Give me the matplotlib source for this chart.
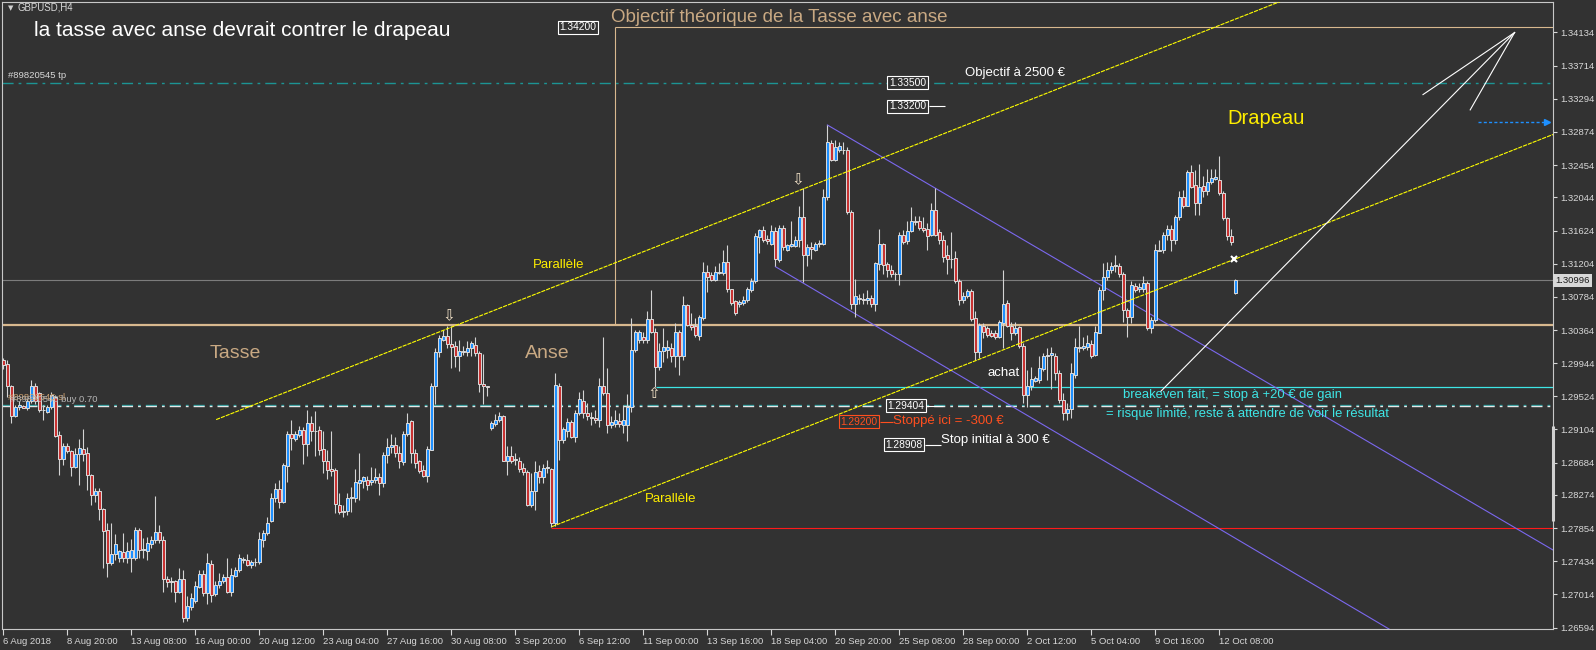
import numpy as np
import matplotlib.pyplot as plt
from matplotlib import transforms

plt.rcParams['font.family'] = ['Liberation Sans', 'DejaVu Sans']
plt.rcParams['lines.scale_dashes'] = False

W, H = 1596, 650
BG = '#323232'

# GBPUSD H4, prix en 1/10000
o_pips = [
    12998, 12993, 12965, 12927, 12939, 12940, 12938, 12946, 12965, 12956, 12935, 12933, 12939, 12952, 12903, 12873,
    12890, 12883, 12863, 12879, 12886, 12880, 12853, 12827, 12832, 12810, 12783, 12741, 12752, 12748, 12755, 12748,
    12748, 12748, 12783, 12758, 12757, 12765, 12770, 12781, 12770, 12721, 12718, 12718, 12705, 12721, 12672, 12686,
    12693, 12711, 12727, 12703, 12740, 12702, 12713, 12718, 12724, 12704, 12725, 12732, 12745, 12745, 12739, 12742,
    12743, 12770, 12779, 12794, 12823, 12835, 12819, 12864, 12905, 12898, 12904, 12910, 12892, 12918, 12908, 12910,
    12886, 12871, 12860, 12859, 12815, 12806, 12807, 12824, 12823, 12843, 12845, 12847, 12844, 12847, 12850, 12843,
    12878, 12888, 12891, 12880, 12869, 12905, 12921, 12881, 12870, 12859, 12851, 12885, 12966, 13009, 13024, 13029,
    13019, 13016, 13004, 13010, 13008, 13013, 13018, 13007, 12968, 12966, 12912, 12917, 12922, 12927, 12871, 12877,
    12872, 12871, 12862, 12857, 12815, 12832, 12858, 12850, 12862, 12860, 12792, 12966, 12897, 12908, 12920, 12901,
    12931, 12947, 12931, 12926, 12925, 12922, 12966, 12957, 12916, 12917, 12921, 12916, 12916, 12939, 13011, 13024,
    13028, 13024, 13050, 13034, 12989, 13010, 13011, 13013, 13003, 13034, 13003, 13068, 13043, 13042, 13029, 13052,
    13110, 13106, 13100, 13109, 13109, 13122, 13088, 13073, 13070, 13071, 13074, 13087, 13098, 13154, 13163, 13152,
    13146, 13162, 13125, 13166, 13138, 13143, 13143, 13150, 13179, 13131, 13142, 13138, 13146, 13146, 13205, 13273,
    13252, 13264, 13264, 13265, 13186, 13069, 13077, 13076, 13075, 13077, 13069, 13120, 13145, 13120, 13113, 13108,
    13107, 13157, 13149, 13162, 13174, 13175, 13166, 13164, 13157, 13188, 13161, 13151, 13131, 13127, 13128, 13098,
    13074, 13079, 13086, 13051, 13009, 13042, 13039, 13032, 13033, 13028, 13045, 13071, 13042, 13032, 13040, 13016,
    12954, 12965, 12972, 12973, 12987, 13003, 13005, 13003, 12982, 12948, 12931, 12936, 12980, 13015, 13014, 13015,
    13019, 13005, 13033, 13087, 13104, 13113, 13118, 13118, 13108, 13062, 13053, 13092, 13088, 13088, 13096, 13039,
    13049, 13137, 13138, 13157, 13165, 13151, 13179, 13205, 13194, 13236, 13220, 13197, 13219, 13212, 13224, 13228,
    13227, 13210, 13178, 13155, 13083,
]
h_pips = [
    13001, 12998, 12967, 12942, 12946, 12942, 12950, 12973, 12969, 12958, 12941, 12942, 12958, 12954, 12908, 12893,
    12893, 12885, 12887, 12898, 12911, 12888, 12854, 12836, 12836, 12811, 12792, 12792, 12778, 12758, 12779, 12768,
    12771, 12787, 12785, 12773, 12774, 12775, 12826, 12790, 12775, 12725, 12724, 12720, 12735, 12732, 12699, 12703,
    12718, 12732, 12732, 12754, 12745, 12718, 12728, 12727, 12748, 12735, 12736, 12752, 12749, 12752, 12745, 12747,
    12780, 12783, 12799, 12830, 12842, 12846, 12868, 12909, 12923, 12908, 12915, 12914, 12935, 12927, 12934, 12915,
    12909, 12884, 12908, 12861, 12830, 12815, 12830, 12838, 12860, 12881, 12852, 12851, 12863, 12861, 12855, 12882,
    12900, 12905, 12901, 12889, 12909, 12931, 12922, 12886, 12872, 12865, 12890, 12969, 13013, 13030, 13037, 13041,
    13041, 13022, 13024, 13016, 13023, 13023, 13027, 13010, 13006, 12966, 12921, 12930, 12932, 12929, 12889, 12889,
    12880, 12876, 12868, 12859, 12855, 12870, 12866, 12867, 12872, 12862, 12982, 12969, 12914, 12925, 12922, 12935,
    12958, 12961, 12944, 12932, 12935, 12976, 13028, 12988, 12927, 12935, 12931, 12941, 12955, 13051, 13037, 13037,
    13034, 13060, 13087, 13039, 13020, 13039, 13024, 13020, 13045, 13036, 13079, 13070, 13058, 13051, 13056, 13123,
    13119, 13110, 13117, 13121, 13138, 13144, 13089, 13074, 13075, 13079, 13091, 13102, 13159, 13165, 13168, 13157,
    13170, 13167, 13170, 13170, 13146, 13175, 13155, 13193, 13216, 13146, 13148, 13148, 13150, 13215, 13296, 13277,
    13277, 13275, 13275, 13268, 13189, 13101, 13082, 13083, 13087, 13081, 13123, 13165, 13147, 13123, 13119, 13110,
    13161, 13163, 13174, 13192, 13181, 13181, 13180, 13172, 13197, 13216, 13165, 13157, 13144, 13161, 13136, 13101,
    13085, 13088, 13088, 13060, 13045, 13045, 13042, 13036, 13037, 13049, 13113, 13075, 13046, 13047, 13041, 13020,
    12986, 12990, 12978, 13003, 13007, 13013, 13015, 13007, 12986, 12956, 12944, 12994, 13026, 13041, 13028, 13030,
    13024, 13041, 13091, 13121, 13123, 13123, 13131, 13121, 13110, 13064, 13098, 13096, 13096, 13105, 13098, 13053,
    13146, 13150, 13160, 13169, 13169, 13182, 13212, 13214, 13239, 13246, 13239, 13247, 13231, 13241, 13241, 13240,
    13257, 13212, 13180, 13165, 13101,
]
l_pips = [
    12987, 12952, 12919, 12926, 12935, 12937, 12935, 12944, 12943, 12933, 12923, 12931, 12936, 12901, 12853, 12866,
    12880, 12851, 12861, 12840, 12870, 12834, 12815, 12818, 12796, 12735, 12723, 12739, 12745, 12742, 12742, 12741,
    12730, 12745, 12747, 12747, 12745, 12760, 12766, 12766, 12704, 12711, 12705, 12692, 12703, 12666, 12668, 12682,
    12690, 12709, 12699, 12689, 12692, 12699, 12709, 12716, 12703, 12699, 12724, 12730, 12741, 12737, 12735, 12738,
    12740, 12762, 12777, 12793, 12819, 12811, 12817, 12844, 12884, 12896, 12901, 12867, 12877, 12896, 12877, 12878,
    12855, 12848, 12851, 12804, 12803, 12800, 12802, 12806, 12819, 12821, 12836, 12834, 12840, 12842, 12828, 12838,
    12868, 12881, 12875, 12861, 12865, 12902, 12868, 12861, 12855, 12850, 12844, 12884, 12943, 13002, 13022, 13013,
    12988, 12989, 12985, 13005, 13003, 13003, 13004, 12958, 12943, 12953, 12910, 12915, 12920, 12870, 12853, 12868,
    12866, 12856, 12853, 12813, 12812, 12808, 12843, 12842, 12855, 12787, 12788, 12872, 12893, 12901, 12899, 12895,
    12929, 12925, 12922, 12916, 12919, 12914, 12954, 12906, 12912, 12914, 12914, 12906, 12896, 12933, 13008, 13020,
    13020, 13020, 13032, 12964, 12986, 12996, 13001, 12996, 12990, 12980, 12999, 13041, 13036, 13028, 13024, 13049,
    13085, 13098, 13098, 13107, 13106, 13085, 13068, 13055, 13066, 13068, 13072, 13085, 13096, 13134, 13148, 13146,
    13144, 13117, 13123, 13138, 13136, 13142, 13142, 13142, 13097, 13118, 13127, 13136, 13142, 13144, 13201, 13250,
    13250, 13262, 13260, 13184, 13063, 13053, 13070, 13070, 13070, 13066, 13061, 13113, 13108, 13104, 13104, 13100,
    13094, 13146, 13146, 13161, 13170, 13163, 13160, 13138, 13155, 13155, 13146, 13123, 13108, 13115, 13096, 13068,
    13071, 13077, 13048, 12999, 13001, 13026, 13028, 13027, 13025, 13026, 13013, 13040, 13024, 13030, 13013, 12944,
    12939, 12961, 12970, 12969, 12984, 12973, 12962, 12973, 12944, 12922, 12922, 12925, 12976, 13009, 13011, 13011,
    13001, 13003, 13032, 13074, 13100, 13109, 13110, 13104, 13046, 13027, 13045, 13085, 13085, 13085, 13036, 13033,
    13047, 13136, 13134, 13151, 13136, 13146, 13176, 13191, 13193, 13216, 13182, 13182, 13205, 13208, 13222, 13226,
    13208, 13176, 13151, 13144, 13082,
]
c_pips = [
    12992, 12965, 12927, 12939, 12941, 12938, 12946, 12965, 12946, 12935, 12935, 12939, 12954, 12902, 12873, 12890,
    12883, 12863, 12879, 12887, 12879, 12853, 12827, 12832, 12810, 12782, 12741, 12752, 12765, 12757, 12748, 12757,
    12758, 12783, 12758, 12759, 12766, 12770, 12781, 12770, 12721, 12717, 12717, 12705, 12721, 12672, 12687, 12697,
    12712, 12727, 12703, 12741, 12701, 12713, 12718, 12724, 12705, 12726, 12732, 12747, 12746, 12739, 12742, 12743,
    12771, 12779, 12792, 12823, 12835, 12819, 12865, 12905, 12899, 12905, 12910, 12892, 12919, 12908, 12908, 12884,
    12871, 12859, 12858, 12816, 12806, 12807, 12824, 12825, 12844, 12846, 12850, 12840, 12847, 12850, 12843, 12878,
    12888, 12891, 12880, 12870, 12905, 12919, 12881, 12868, 12858, 12852, 12886, 12966, 13009, 13026, 13029, 13019,
    13015, 13004, 13010, 13009, 13013, 13020, 13007, 12968, 12966, 12964, 12919, 12923, 12928, 12871, 12877, 12871,
    12872, 12860, 12857, 12815, 12833, 12857, 12850, 12862, 12863, 12792, 12967, 12897, 12911, 12920, 12901, 12931,
    12949, 12931, 12927, 12925, 12922, 12966, 12957, 12916, 12920, 12922, 12917, 12922, 12939, 13011, 13034, 13034,
    13024, 13050, 13034, 12989, 13010, 13015, 13015, 13003, 13034, 13003, 13068, 13043, 13040, 13030, 13053, 13110,
    13104, 13100, 13110, 13110, 13122, 13088, 13071, 13058, 13072, 13074, 13088, 13098, 13155, 13163, 13150, 13149,
    13162, 13127, 13166, 13142, 13144, 13145, 13151, 13179, 13131, 13142, 13139, 13146, 13147, 13205, 13274, 13252,
    13268, 13270, 13265, 13186, 13069, 13079, 13076, 13075, 13077, 13069, 13121, 13145, 13119, 13113, 13107, 13107,
    13157, 13148, 13162, 13175, 13173, 13166, 13163, 13156, 13188, 13157, 13150, 13129, 13126, 13126, 13098, 13074,
    13080, 13086, 13050, 13009, 13043, 13034, 13030, 13029, 13027, 13046, 13070, 13042, 13032, 13039, 13016, 12954,
    12965, 12974, 12975, 12988, 13003, 13005, 13007, 12982, 12948, 12931, 12936, 12982, 13015, 13013, 13016, 13020,
    13004, 13034, 13087, 13104, 13113, 13118, 13119, 13108, 13062, 13053, 13093, 13087, 13091, 13096, 13039, 13049,
    13138, 13138, 13157, 13165, 13151, 13179, 13205, 13194, 13236, 13218, 13197, 13218, 13212, 13224, 13229, 13230,
    13210, 13178, 13155, 13148, 13100,
]

date_labels = ['6 Aug 2018', '8 Aug 20:00', '13 Aug 08:00', '16 Aug 00:00', '20 Aug 12:00',
               '23 Aug 04:00', '27 Aug 16:00', '30 Aug 08:00', '3 Sep 20:00', '6 Sep 12:00',
               '11 Sep 00:00', '13 Sep 16:00', '18 Sep 04:00', '20 Sep 20:00', '25 Sep 08:00',
               '28 Sep 00:00', '2 Oct 12:00', '5 Oct 04:00', '9 Oct 16:00', '12 Oct 08:00']
price_ticks = [1.34134, 1.33714, 1.33294, 1.32874, 1.32454, 1.32044, 1.31624, 1.31204, 1.30784,
               1.30364, 1.29944, 1.29524, 1.29104, 1.28684, 1.28274, 1.27854, 1.27434, 1.27014, 1.26594]

# niveaux horizontaux
tp_level = 1.33500
sl_level = 1.29420
open_level = 1.29404
neck_level = 1.30430
target_level = 1.34200
bid_level = 1.30996
breakeven_level = 1.29636
low_level = 1.27860

# lignes de tendance : deux points (barre, prix)
yellow_up = [(53.2, 1.29229), (112.0, 1.30400)]
yellow_low = [(137.1, 1.27872), (307.7, 1.31259)]
violet_up = [(206.0, 1.32962), (387.4, 1.27577)]
violet_low = [(193.0, 1.31167), (346.4, 1.26576)]
white_shaft = [(289.3, 1.29584), (377.8, 1.34133)]
white_wing1 = [(354.9, 1.33347), (377.8, 1.34133)]
white_wing2 = [(366.7, 1.33153), (377.8, 1.34133)]

assert len(o_pips) == len(h_pips) == len(l_pips) == len(c_pips)
o = np.array(o_pips) / 1e4
h = np.array(h_pips) / 1e4
l = np.array(l_pips) / 1e4
c = np.array(c_pips) / 1e4
x = np.arange(len(c))

fig = plt.figure(figsize=(W / 100, H / 100), dpi=100, facecolor=BG)
ax = fig.add_axes([2 / W, 21 / H, 1551 / W, 627 / H], facecolor=BG)
XMAX = 387.4
ax.set_xlim(-0.33, XMAX)
ax.set_ylim(1.26576, 1.34520)


def ptxt(xp, yp, s, **kw):
    # texte place en pixels de la figure
    kw.setdefault('va', 'center')
    kw.setdefault('ha', 'left')
    fig.text(xp / W, 1 - yp / H, s, **kw)


def ray(pts, x_end, **kw):
    (x0, y0), (x1, y1) = pts
    k = (y1 - y0) / (x1 - x0)
    ax.plot([x0, x_end], [y0, y0 + k * (x_end - x0)], **kw)


dashdot = (0, (8, 3.6, 2, 3.6))
dot = (0, (3, 0.7))

# niveaux
ax.axhline(tp_level, color='#1c9494', lw=1, ls=dashdot, zorder=1)
ax.axhline(sl_level, color='#1c9494', lw=1, ls=dashdot, zorder=1)
ax.axhline(open_level, color='#e6e6e6', lw=1, ls=dashdot, zorder=1)
ax.axhline(neck_level, color='#d8b88e', lw=1.6, zorder=2)
ax.axhline(bid_level, color='#7c7c7c', lw=0.8, zorder=1)
ax.hlines(breakeven_level, 163.1, XMAX, color='#3ee6e6', lw=0.9, zorder=2)
ax.hlines(target_level, 153, XMAX, color='#d8b88e', lw=0.8, zorder=2)
ax.vlines(153, neck_level, target_level, color='#d8b88e', lw=0.8, zorder=2)
ax.hlines(low_level, 137, XMAX, color='#ff1a1a', lw=0.8, zorder=2)

# lignes de tendance
ray(yellow_up, 330, color='#ffff00', lw=0.8, ls=dot, zorder=5)
ray(yellow_low, XMAX, color='#ffff00', lw=0.8, ls=dot, zorder=5)
ray(violet_up, XMAX, color='#7b68ee', lw=0.8, zorder=2)
ray(violet_low, XMAX, color='#7b68ee', lw=0.8, zorder=2)
for seg in (white_shaft, white_wing1, white_wing2):
    ax.plot([seg[0][0], seg[1][0]], [seg[0][1], seg[1][1]], color='white', lw=0.8, zorder=5)

# fleche bleue pointillee
ax.plot([368.6, 386.0], [1.3300, 1.3300], color='#1e90ff', lw=1, ls=(0, (2.2, 1.6)), zorder=5)
ax.plot([386.0], [1.3300], marker='>', color='#1e90ff', ms=5, zorder=5)

# bougies
ax.vlines(x, l, h, color='#d4d4d4', lw=0.8, zorder=3)
body = np.maximum(np.abs(c - o), 0.00004)
colors = ['#1e90ff' if up else '#c83232' for up in c >= o]
ax.bar(x, body, bottom=np.minimum(o, c), width=0.75, color=colors,
       edgecolor='#dcdcdc', linewidth=0.7, zorder=4)

# marqueurs
ax.plot([307.7], [1.31259], marker='x', color='white', ms=5, mew=1.5, zorder=6)
for bx, py, s in [(111.4, 1.30542, '\u21e9'), (198.7, 1.32265, '\u21e9'), (162.7, 1.29566, '\u21e7')]:
    ax.text(bx, py, s, family=['DejaVu Sans'], fontsize=11, color='#f2e2c8',
            ha='center', va='center', zorder=6)


# etiquettes de prix
def price_box(bx, price, color='white', line_to=None):
    ax.text(bx, price, f'{price:.5f}', ha='left', va='center', fontsize=7.4, color=color,
            zorder=7, bbox=dict(boxstyle='square,pad=0.15', fc=BG, ec=color, lw=0.8))
    if line_to is not None:
        ax.hlines(price, bx + 10.0, line_to, color=color, lw=0.8, zorder=6)


price_box(139.0, target_level)
price_box(221.4, tp_level)
price_box(221.4, 1.33200, line_to=235.4)
price_box(221.0, open_level, line_to=235.0)
price_box(209.2, 1.29200, color='#ff4f1f', line_to=222.4)
price_box(220.5, 1.28908, line_to=234.4)

# textes
ptxt(8, 8, '\u25bc', family=['DejaVu Sans'], fontsize=5, color='#d0d0d0')
ptxt(18, 8, 'GBPUSD,H4', fontsize=6.9, color='#d8d8d8')
ptxt(33.6, 31, 'la tasse avec anse devrait contrer le drapeau', fontsize=15, color='white')
ptxt(8, 76, '#89820545 tp', fontsize=6.8, color='#d8d8d8')
ptxt(8, 398, '#89820545 sl', fontsize=6.8, color='#c89c6c')
ptxt(11, 399, '#89820545 buy 0.70', fontsize=6.8, color='#b4b4b4')
ptxt(611, 17.3, 'Objectif théorique de la Tasse avec anse', fontsize=13.5, color='#c9a983')
ptxt(965, 73, 'Objectif à 2500 €', fontsize=9.5, color='white')
ptxt(1227, 118, 'Drapeau', fontsize=14.5, color='#ffee00')
ptxt(533, 265.5, 'Parallèle', fontsize=9.5, color='#ffee00')
ptxt(645, 499.5, 'Parallèle', fontsize=9.5, color='#ffee00')
ptxt(210, 353, 'Tasse', fontsize=14, color='#c9a983')
ptxt(525, 353, 'Anse', fontsize=14, color='#c9a983')
ptxt(987, 373, 'achat', fontsize=9.5, color='white')
ptxt(1123, 394.7, 'breakeven fait, = stop à +20 € de gain', fontsize=9.4, color='#3ee6e6')
ptxt(1106, 414, '= risque limité, reste à attendre de voir le résultat', fontsize=9.4, color='#3ee6e6')
ptxt(893, 421, 'Stoppé ici = -300 €', fontsize=9.5, color='#ff4f1f')
ptxt(941, 440.5, 'Stop initial à 300 €', fontsize=9.5, color='white')

# axes facon MT4
for sp in ax.spines.values():
    sp.set_color('#c8c8c8')
    sp.set_linewidth(0.8)
ax.yaxis.tick_right()
ax.set_yticks(price_ticks)
ax.set_yticklabels([f'{v:.5f}' for v in price_ticks])
ax.tick_params(axis='y', colors='#d8d8d8', labelsize=6.8, length=3, width=0.8, pad=2)
ax.set_xticks(np.arange(0, 16 * len(date_labels), 16))
ax.set_xticklabels(date_labels)
ax.tick_params(axis='x', colors='#d8d8d8', labelsize=6.8, length=4, width=0.8, pad=2)
for lab in ax.get_xticklabels():
    lab.set_ha('left')

blend = transforms.blended_transform_factory(ax.transAxes, ax.transData)
ax.text(1.0015, bid_level, f'{bid_level:.5f}', transform=blend, ha='left', va='center',
        fontsize=6.8, color='#1a1a1a', zorder=8,
        bbox=dict(boxstyle='square,pad=0.2', fc='#d8d8d8', ec='none'))
ax.plot([XMAX, XMAX], [1.27949, 1.29148], color='#d0d0d0', lw=2.2, clip_on=False,
        solid_capstyle='butt', zorder=8)

fig.savefig('out.png', dpi=100, facecolor=BG)
